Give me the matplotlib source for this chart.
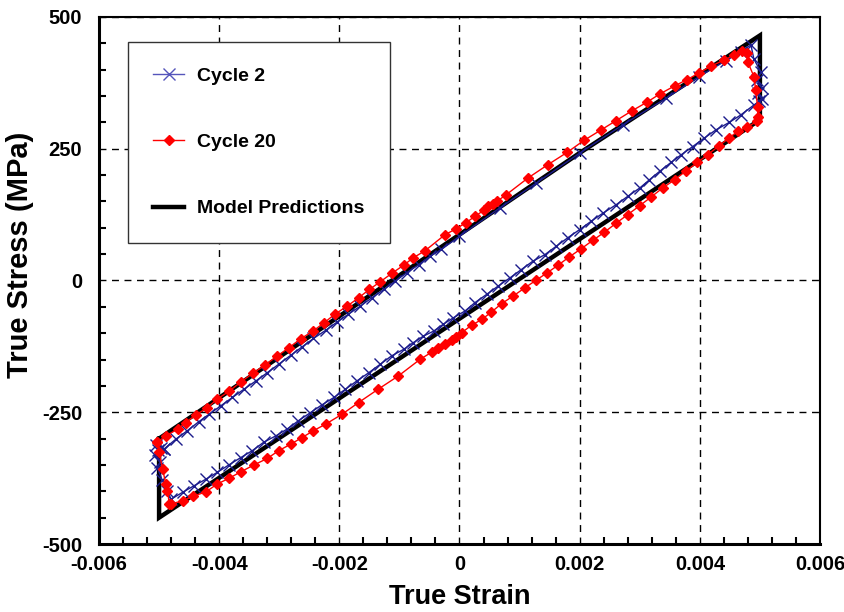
import matplotlib
matplotlib.use("Agg")
import matplotlib.pyplot as plt
from matplotlib.ticker import MultipleLocator

plt.rcParams['font.family'] = ['Liberation Sans', 'DejaVu Sans']
plt.rcParams['font.weight'] = 'bold'

# ---- data ----
cycle2_strain = [
    -0.00492, -0.00472, -0.00453, -0.00434, -0.00417, -0.003975, -0.00378, -0.00359,
    -0.00339, -0.0032, -0.00301, -0.00281, -0.00262, -0.00243, -0.00223, -0.00204,
    -0.00185, -0.00165, -0.00146, -0.00126, -0.00107, -0.00088, -0.00068, -0.00049,
    -0.0003, 0.0, 0.00067, 0.00128, 0.002, 0.00272, 0.00344, 0.00399, 0.00443,
    0.00468, 0.00485,
    0.0049, 0.00502, 0.00495, 0.00504, 0.00497, 0.00503, 0.00499,
    0.0049, 0.00468, 0.00449, 0.00427, 0.00407, 0.00388, 0.00369, 0.00352, 0.00333,
    0.00316, 0.003, 0.0028, 0.00261, 0.00239, 0.00219, 0.002, 0.0018, 0.00161,
    0.00142, 0.00122, 0.00103, 0.00084, 0.00064, 0.00045, 0.000257, 0.00009,
    -0.0001, -0.00027, -0.00043, -0.0006, -0.00077, -0.00093, -0.00113, -0.00132,
    -0.00151, -0.00171, -0.0019, -0.00209, -0.00229, -0.00248, -0.00268, -0.00287,
    -0.00306, -0.00326, -0.00345, -0.00364, -0.00384, -0.00403, -0.00422, -0.00442,
    -0.00461, -0.0048,
    -0.00486, -0.00495, -0.00503, -0.00498, -0.00506, -0.00501, -0.00505, -0.00497,
    -0.00492,
]
cycle2_stress = [
    -320, -301, -285, -268, -254, -238, -222, -206.5,
    -190.7, -175, -159, -142, -126, -110, -94.7, -79,
    -64, -48.6, -32.8, -17, -1.3, 14.6, 30, 46,
    59, 84, 137.7, 185, 241.8, 295.5, 346, 387, 417,
    434, 447,
    420, 395, 380, 365, 355, 345, 340,
    333, 314, 300, 286, 270, 254, 238.6, 224, 207,
    191, 175.5, 159.7, 144, 128, 112.3, 96.6, 80.9, 65,
    49, 36.6, 20.8, 5, -10.8, -26.5, -42, -58,
    -70.6, -83, -96, -105.5, -118, -130.7, -143, -159,
    -175, -190.7, -206.5, -222, -236, -250.6, -266, -282,
    -295, -307, -323, -336, -350, -364, -377, -389.6,
    -402, -415,
    -400, -378, -355, -345, -332, -322, -312, -318,
    -320,
]

cycle20_strain = [
    -0.00503, -0.00489, -0.00469, -0.004556, -0.00439, -0.00421, -0.00403, -0.00383,
    -0.00364, -0.00344, -0.00323, -0.00303, -0.00284, -0.00264, -0.00244, -0.00225,
    -0.00208, -0.00187, -0.00168, -0.0015, -0.00132, -0.00113, -0.00093, -0.00077,
    -0.00057, -0.00024, -0.00006, 0.00011, 0.00026, 0.0004, 0.00048, 0.00055,
    0.00062, 0.00078, 0.00114, 0.00147, 0.00179, 0.00207, 0.00236, 0.00261,
    0.00287, 0.00312, 0.00333, 0.00358, 0.00378, 0.00398, 0.00419, 0.00441,
    0.00457, 0.00471, 0.00479,
    0.0048, 0.0049, 0.00493, 0.00496, 0.00497, 0.00495,
    0.00479, 0.00463, 0.00448, 0.00432, 0.00413, 0.00396, 0.00377, 0.00358,
    0.00338, 0.00319, 0.003, 0.0028, 0.00261, 0.00241, 0.00222, 0.00203,
    0.00183, 0.00164, 0.00146, 0.00128, 0.00109, 0.00089, 0.0007, 0.00053,
    0.00037, 0.0002, 0.000036, -0.00005, -0.00013, -0.00024, -0.00035, -0.00046,
    -0.000656, -0.001016, -0.00135, -0.00168, -0.001955, -0.00223, -0.00243, -0.00262,
    -0.00281, -0.00301, -0.0032, -0.00342, -0.00364, -0.00384, -0.00403, -0.00422,
    -0.00444, -0.00461, -0.0048,
    -0.00483, -0.00486, -0.00489, -0.00494, -0.005, -0.00503,
]
cycle20_stress = [
    -307, -295, -282, -269.5, -255, -242.4, -225, -209.7,
    -192.6, -176, -160, -143, -127.5, -110.4, -96, -80,
    -64.4, -48.7, -32.8, -17, -2.5, 13.3, 29, 43,
    56.8, 87, 97.8, 110, 121.8, 133, 140.7, 145.8,
    150, 163, 194.5, 219.7, 243, 265.7, 286, 303.6,
    322, 338.4, 353.6, 369.3, 380.7, 393.4, 407, 418.6,
    428, 435.6, 432,
    414, 387, 362, 330, 311, 302,
    291, 283, 270, 255.7, 238.6, 224, 208, 191,
    175.5, 158.5, 142, 125, 109, 91.5, 76.3, 60.6,
    45, 29, 14.6, 1, -13.8, -29.7, -44, -60,
    -74, -85, -99, -106.7, -113, -121, -127.5, -135.8,
    -149.6, -181, -206, -231.6, -253.8, -272.7, -285, -298,
    -310.6, -323, -337.7, -350, -363, -375.6, -386, -401,
    -409.7, -418, -424,
    -424, -399, -386, -358, -326, -307,
]

model_strain = [-0.005, 0.002, 0.005, 0.005, -0.005, -0.005]
model_stress = [-300, 242, 465, 305, -450, -300]

x_ticks = [-0.006, -0.004, -0.002, 0, 0.002, 0.004, 0.006]
x_ticklabels = ['-0.006', '-0.004', '-0.002', '0', '0.002', '0.004', '0.006']
y_ticks = [-500, -250, 0, 250, 500]
y_ticklabels = ['-500', '-250', '0', '250', '500']

# ---- figure ----
fig = plt.figure(figsize=(8.45, 6.12), dpi=100)
ax = fig.add_axes([99 / 845, 1 - 544 / 612, (820 - 99) / 845, (544 - 17) / 612])

ax.plot(cycle2_strain, cycle2_stress, color='#1c1c8c', lw=1.0, marker='x',
        markersize=8, markeredgewidth=1.0, label='Cycle 2', zorder=4)
ax.plot(cycle20_strain, cycle20_stress, color='#ff0000', lw=1.0, marker='D',
        markersize=4.8, label='Cycle 20', zorder=5)
ax.plot(model_strain, model_stress, color='black', lw=3.2,
        label='Model Predictions', zorder=3, solid_joinstyle='miter')

ax.set_xlim(-0.006, 0.006)
ax.set_ylim(-500, 500)
ax.set_xticks(x_ticks)
ax.set_xticklabels(x_ticklabels)
ax.set_yticks(y_ticks)
ax.set_yticklabels(y_ticklabels)
ax.xaxis.set_minor_locator(MultipleLocator(0.0004))
ax.yaxis.set_minor_locator(MultipleLocator(50))
ax.tick_params(which='both', direction='in', top=False, right=False, width=1.5)
ax.tick_params(axis='x', labelsize=14.5, pad=8)
ax.tick_params(axis='y', labelsize=14.5, pad=12)
ax.tick_params(which='major', length=0)
ax.tick_params(which='minor', length=5)
for lbl in ax.get_xticklabels() + ax.get_yticklabels():
    lbl.set_fontweight('bold')

ax.grid(True, which='major', color='black', linestyle=(0, (5, 4)), linewidth=1.0)

ax.spines['left'].set_linewidth(2.2)
ax.spines['bottom'].set_linewidth(2.2)
ax.spines['top'].set_linewidth(1.5)
ax.spines['right'].set_linewidth(1.5)

ax.set_xlabel('True Strain', fontsize=19.5, fontweight='bold', labelpad=7)
ax.set_ylabel('True Stress (MPa)', fontsize=21, fontweight='bold')
ax.yaxis.set_label_coords((34 - 99) / 721, (544 - 255) / 527)

leg = ax.legend(loc='upper left', bbox_to_anchor=((128 - 99) / 721, 1 - (42 - 17) / 527),
                frameon=True, fancybox=False, edgecolor='#333333', framealpha=1,
                prop={'weight': 'bold', 'size': 14}, labelspacing=2.5,
                borderpad=1.3, handlelength=1.6, handletextpad=0.65, borderaxespad=0,
                numpoints=1)
leg.get_frame().set_linewidth(1.0)
leg.get_lines()[0].set_color('#5555bb')

fig.savefig('out.png', dpi=100)
